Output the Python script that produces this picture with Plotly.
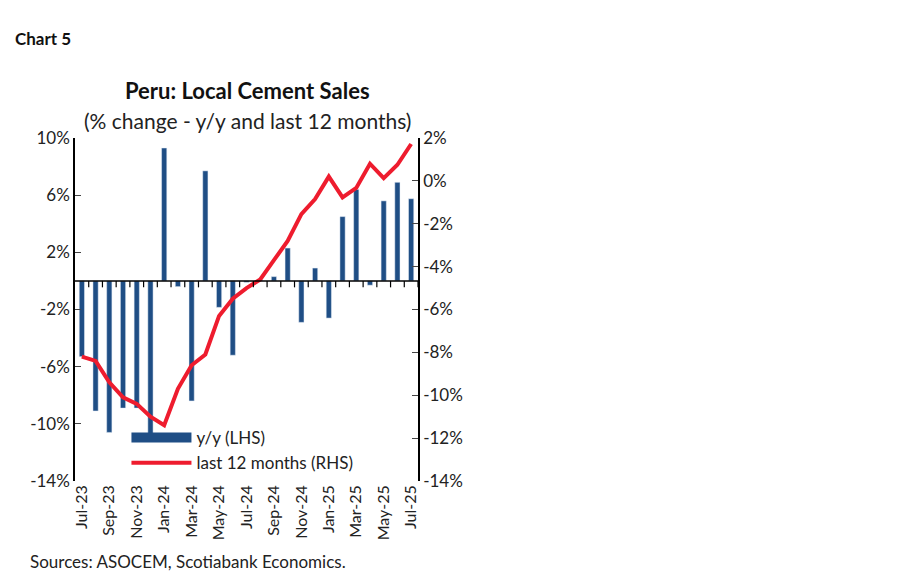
import plotly.graph_objects as go

months = ["Jul-23","Aug-23","Sep-23","Oct-23","Nov-23","Dec-23","Jan-24","Feb-24","Mar-24","Apr-24","May-24","Jun-24",
          "Jul-24","Aug-24","Sep-24","Oct-24","Nov-24","Dec-24","Jan-25","Feb-25","Mar-25","Apr-25","May-25","Jun-25","Jul-25"]
yoy = [-5.3,-9.1,-10.6,-8.9,-8.9,-11.0,9.3,-0.4,-8.4,7.7,-1.85,-5.2,-0.1,0.05,0.3,2.3,-2.9,0.9,-2.6,4.5,6.4,-0.3,5.6,6.9,5.75]
l12m = [-8.2,-8.4,-9.4,-10.1,-10.4,-11.0,-11.4,-9.7,-8.6,-8.1,-6.3,-5.5,-5.0,-4.6,-3.7,-2.8,-1.55,-0.85,0.2,-0.77,-0.33,0.8,0.13,0.75,1.72]
left_ticks = [10,6,2,-2,-6,-10,-14]
right_ticks = [2,0,-2,-4,-6,-8,-10,-12,-14]

F = "Lato"
BLUE = "#1f4e85"
fig = go.Figure()
fig.add_trace(go.Bar(x=months, y=yoy, name="y/y (LHS)", marker_color=BLUE, width=0.38, showlegend=False))
fig.add_trace(go.Scatter(x=[None], y=[None], name="y/y (LHS)", mode="lines", line=dict(color=BLUE, width=11)))
fig.add_trace(go.Scatter(x=months, y=l12m, name="last 12 months (RHS)", yaxis="y2", mode="lines",
                         line=dict(color="#ee1c2e", width=4)))
fig.update_layout(
    width=900, height=579, plot_bgcolor="white", paper_bgcolor="white",
    margin=dict(l=67, r=490, t=130, b=106, autoexpand=False),
    font=dict(family=F, size=17, color="#222"),
    xaxis=dict(tickangle=-90, tickvals=months[::2], showline=False, ticks="", range=[-0.5, 24.5],
               tickfont=dict(size=16), automargin=False),
    yaxis=dict(range=[-14, 10], tickvals=left_ticks, ticktext=[f"{v}%" for v in left_ticks],
               showline=True, linecolor="black", linewidth=1.5, ticks="inside", ticklen=6, automargin=False,
               showgrid=False, zeroline=False, tickfont=dict(size=17)),
    yaxis2=dict(range=[-14, 2], tickvals=right_ticks, ticktext=[f"{v}%" for v in right_ticks], overlaying="y",
                side="right", showline=True, linecolor="black", linewidth=1.5, ticks="inside", ticklen=6,
                automargin=False, showgrid=False, zeroline=False, tickfont=dict(size=17)),
    legend=dict(x=0.15, y=0.0, xanchor="left", yanchor="bottom", bgcolor="rgba(0,0,0,0)",
                font=dict(size=17), itemwidth=60, tracegroupgap=0),
    showlegend=True,
)
fig.add_shape(type="line", xref="paper", x0=0, x1=1, yref="y", y0=0, y1=0, line=dict(color="black", width=1.5))
for m in months:
    fig.add_shape(type="line", xref="x", x0=months.index(m)+0.5, x1=months.index(m)+0.5, yref="y", y0=0, y1=-0.45,
                  line=dict(color="black", width=1.2))
fig.add_annotation(text="<b>Peru: Local Cement Sales</b>", xref="paper", yref="paper", x=0.504, y=1.184,
                   showarrow=False, font=dict(size=22, color="#111"))
fig.add_annotation(text="(% change - y/y and last 12 months)", xref="paper", yref="paper", x=0.504, y=1.094,
                   showarrow=False, font=dict(size=21, color="#222"))
fig.add_annotation(text="<b>Chart 5</b>", xref="paper", yref="paper", x=-62/343, y=1.327, xanchor="left",
                   showarrow=False, font=dict(size=17, color="#111"))
fig.add_annotation(text="Sources: ASOCEM, Scotiabank Economics.", xref="paper", yref="paper", x=-47/343, y=-0.271,
                   xanchor="left", showarrow=False, font=dict(size=17, color="#222"))
fig.write_html("out.html")
